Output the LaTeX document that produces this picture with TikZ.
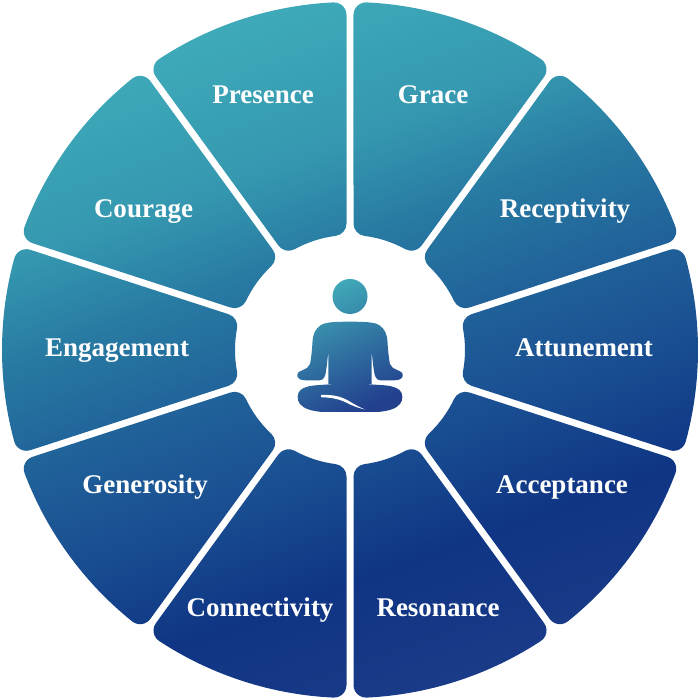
\documentclass[tikz,border=0pt]{standalone}
\usepackage{fontspec}
\setmainfont{Liberation Serif}
\definecolor{r1}{HTML}{3EAAB9}
\definecolor{r2}{HTML}{3598B0}
\definecolor{r3}{HTML}{2779A2}
\definecolor{r4}{HTML}{206299}
\definecolor{r5}{HTML}{1A4F92}
\definecolor{r6}{HTML}{0F3584}
\definecolor{r7}{HTML}{1A3B88}
\definecolor{ftop}{HTML}{40A9B7}
\definecolor{fmid}{HTML}{2E72A6}
\definecolor{fbot}{HTML}{22408E}
\pgfdeclareverticalshading{ringshade}{100bp}{color(0bp)=(r7); color(25bp)=(r7); color(34.3bp)=(r6); color(42.9bp)=(r5); color(50bp)=(r4); color(57.1bp)=(r3); color(64.3bp)=(r2); color(75bp)=(r1); color(100bp)=(r1)}
\tikzset{
  lbl/.style={anchor=base, text=white, inner sep=0pt, font=\fontsize{27}{30}\selectfont\bfseries}
}
\begin{document}
\begin{tikzpicture}[x=1pt,y=1pt]
\useasboundingbox (-350,-350) rectangle (350,350);
\def\Ro{348}
\def\Ri{115}
\def\Crad{12.5}
\def\Hg{3.5}
\pgfmathsetmacro\eO{asin((\Hg+\Crad)/(\Ro-\Crad))}
\pgfmathsetmacro\dO{(\Ro-\Crad)*cos(\eO)}
\pgfmathsetmacro\eI{asin((\Hg+\Crad)/(\Ri+\Crad))}
\pgfmathsetmacro\dI{(\Ri+\Crad)*cos(\eI)}
% ring of ten rounded segments
\shade[shading=ringshade, shading angle=20]
 \foreach \k [evaluate=\k as \sA using 90+36*\k,
              evaluate=\k as \sB using 126+36*\k] in {0,...,9} {
   ({\dI*cos(\sA)-\Hg*sin(\sA)},{\dI*sin(\sA)+\Hg*cos(\sA)})
   -- ({\dO*cos(\sA)-\Hg*sin(\sA)},{\dO*sin(\sA)+\Hg*cos(\sA)})
   arc[start angle={\sA-90}, end angle={\sA+\eO}, radius=\Crad]
   arc[start angle={\sA+\eO}, end angle={\sB-\eO}, radius=\Ro]
   arc[start angle={\sB-\eO}, end angle={\sB+90}, radius=\Crad]
   -- ({\dI*cos(\sB)+\Hg*sin(\sB)},{\dI*sin(\sB)-\Hg*cos(\sB)})
   arc[start angle={\sB+90}, end angle={\sB+180-\eI}, radius=\Crad]
   arc[start angle={\sB-\eI}, end angle={\sA+\eI}, radius=\Ri]
   arc[start angle={\sA+180+\eI}, end angle={\sA+270}, radius=\Crad]
   -- cycle
 };
% meditation figure: head, torso with arms, crossed legs
\shade[top color=ftop, middle color=fmid, bottom color=fbot, shading angle=25]
  (0,53.5) circle[radius=17.5]
  (0,28.3) .. controls (-14,28.3) and (-24,28) .. (-29,25)
  .. controls (-35,21) and (-37,16) .. (-37.5,8)
  .. controls (-38,0) and (-39,-10) .. (-40,-14)
  .. controls (-41,-17) and (-44,-19) .. (-47,-20)
  .. controls (-51,-21.5) and (-53.5,-23) .. (-52.5,-26.5)
  .. controls (-51.5,-29.5) and (-48,-30.3) .. (-44,-30.3)
  -- (-31,-30.5)
  .. controls (-28,-30.5) and (-26,-29) .. (-25,-26)
  .. controls (-23.5,-20) and (-22.5,-10) .. (-21.7,-1)
  .. controls (-21.7,-10) and (-21.7,-25) .. (-21.7,-34)
  -- (21.7,-34)
  .. controls (21.7,-25) and (21.7,-10) .. (21.7,-1)
  .. controls (22.5,-10) and (23.5,-20) .. (25,-26)
  .. controls (26,-29) and (28,-30.5) .. (31,-30.5)
  -- (44,-30.3)
  .. controls (48,-30.3) and (51.5,-29.5) .. (52.5,-26.5)
  .. controls (53.5,-23) and (51,-21.5) .. (47,-20)
  .. controls (44,-19) and (41,-17) .. (40,-14)
  .. controls (39,-10) and (38,0) .. (37.5,8)
  .. controls (37,16) and (35,21) .. (29,25)
  .. controls (24,28) and (14,28.3) .. (0,28.3) -- cycle
  (0,-33) -- (-30,-35)
  .. controls (-40,-35.5) and (-46,-37) .. (-49.5,-40)
  .. controls (-53,-43) and (-53.5,-50) .. (-50,-54)
  .. controls (-46,-59) and (-38,-61) .. (-28,-62)
  -- (28,-62)
  .. controls (38,-61) and (46,-59) .. (50,-54)
  .. controls (53.5,-50) and (53,-43) .. (49.5,-40)
  .. controls (46,-37) and (40,-35.5) .. (30,-35) -- cycle;
% white crossing line of the legs
\fill[white]
  (-29,-45) .. controls (-18,-44.5) and (-10,-46) .. (-2,-50.5)
  .. controls (4,-54) and (9,-57) .. (15,-59.5)
  .. controls (8,-58) and (2,-55.5) .. (-4,-52.5)
  .. controls (-12,-48.5) and (-20,-47.5) .. (-29,-47.2) -- cycle;
% labels
\node[lbl] (presence) at (-87,246) {Presence};
\node[lbl] (grace) at (83,246) {Grace};
\node[lbl] (courage) at (-206.5,132) {Courage};
\node[lbl] (receptivity) at (215,132) {Receptivity};
\node[lbl] (engagement) at (-233,-7) {Engagement};
\node[lbl] (attunement) at (234,-7) {Attunement};
\node[lbl] (generosity) at (-205,-143) {Generosity};
\node[lbl] (acceptance) at (212,-143) {Acceptance};
\node[lbl] (connectivity) at (-90,-266) {Connectivity};
\node[lbl] (resonance) at (88,-266) {Resonance};
\end{tikzpicture}
\end{document}
